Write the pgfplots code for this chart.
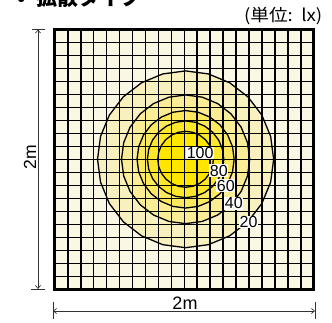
\documentclass[border=0pt]{standalone}
\usepackage{pgfplots}
\pgfplotsset{compat=1.18}
\usepackage{fontspec}
\setmainfont{Liberation Sans}
\newfontfamily\jp{Noto Sans CJK JP}
\usetikzlibrary{arrows.meta}
\definecolor{bg}{HTML}{FAF8E4}
\definecolor{c20}{HTML}{F9F0C0}
\definecolor{c40}{HTML}{FBEC96}
\definecolor{c60}{HTML}{FDE85E}
\definecolor{c80}{HTML}{FEE62A}
\definecolor{c100}{HTML}{FFE600}
\definecolor{dim}{HTML}{333333}
\begin{document}
\begin{tikzpicture}
\begin{axis}[at={(54.8pt,32.7pt)}, anchor=south west, scale only axis,
  width=259pt, height=260pt, xmin=0, xmax=2, ymin=0, ymax=2,
  xtick distance=0.1, ytick distance=0.1, xticklabels={}, yticklabels={},
  major tick length=0pt, grid=major, grid style={black, line width=1.6pt},
  axis line style={black, line width=3pt}, axis on top,
  axis background/.style={fill=bg}]
\addplot[fill=c20, draw=black, line width=1.3pt] coordinates {
(1.69,1.0) (1.6668,1.176) (1.5989,1.34) (1.4908,1.4808) (1.35,1.5889) (1.186,1.6568)
(1.01,1.68) (0.834,1.6568) (0.67,1.5889) (0.5292,1.4808) (0.4211,1.34) (0.3532,1.176)
(0.33,1.0) (0.3532,0.824) (0.4211,0.66) (0.5292,0.5192) (0.67,0.4111) (0.834,0.3432)
(1.01,0.32) (1.186,0.3432) (1.35,0.4111) (1.4908,0.5192) (1.5989,0.66) (1.6668,0.824)} -- cycle;
\addplot[fill=c40, draw=black, line width=1.3pt] coordinates {
(1.505,1.0) (1.4881,1.1281) (1.4387,1.2475) (1.36,1.35) (1.2575,1.4287) (1.1381,1.4781)
(1.01,1.495) (0.8819,1.4781) (0.7625,1.4287) (0.66,1.35) (0.5813,1.2475) (0.5319,1.1281)
(0.515,1.0) (0.5319,0.8719) (0.5813,0.7525) (0.66,0.65) (0.7625,0.5713) (0.8819,0.5219)
(1.01,0.505) (1.1381,0.5219) (1.2575,0.5713) (1.36,0.65) (1.4387,0.7525) (1.4881,0.8719)} -- cycle;
\addplot[fill=c60, draw=black, line width=1.3pt] coordinates {
(1.385,1.0) (1.3722,1.0971) (1.3348,1.1875) (1.2752,1.2652) (1.1975,1.3248) (1.1071,1.3622)
(1.01,1.375) (0.9129,1.3622) (0.8225,1.3248) (0.7448,1.2652) (0.6852,1.1875) (0.6478,1.0971)
(0.635,1.0) (0.6478,0.9029) (0.6852,0.8125) (0.7448,0.7348) (0.8225,0.6752) (0.9129,0.6378)
(1.01,0.625) (1.1071,0.6378) (1.1975,0.6752) (1.2752,0.7348) (1.3348,0.8125) (1.3722,0.9029)} -- cycle;
\addplot[fill=c80, draw=black, line width=1.3pt] coordinates {
(1.305,1.0) (1.2949,1.0763) (1.2655,1.1475) (1.2186,1.2086) (1.1575,1.2555) (1.0863,1.2849)
(1.01,1.295) (0.9337,1.2849) (0.8625,1.2555) (0.8014,1.2086) (0.7545,1.1475) (0.7251,1.0763)
(0.715,1.0) (0.7251,0.9237) (0.7545,0.8525) (0.8014,0.7914) (0.8625,0.7445) (0.9337,0.7151)
(1.01,0.705) (1.0863,0.7151) (1.1575,0.7445) (1.2186,0.7914) (1.2655,0.8525) (1.2949,0.9237)} -- cycle;
\addplot[fill=c100, draw=black, line width=1.3pt] coordinates {
(1.225,1.0) (1.2177,1.0556) (1.1962,1.1075) (1.162,1.152) (1.1175,1.1862) (1.0656,1.2077)
(1.01,1.215) (0.9544,1.2077) (0.9025,1.1862) (0.858,1.152) (0.8238,1.1075) (0.8023,1.0556)
(0.795,1.0) (0.8023,0.9444) (0.8238,0.8925) (0.858,0.848) (0.9025,0.8138) (0.9544,0.7923)
(1.01,0.785) (1.0656,0.7923) (1.1175,0.8138) (1.162,0.848) (1.1962,0.8925) (1.2177,0.9444)} -- cycle;
\coordinate (L100) at (axis cs:1.122,1.049);
\coordinate (L80) at (axis cs:1.267,0.913);
\coordinate (L60) at (axis cs:1.321,0.798);
\coordinate (L40) at (axis cs:1.382,0.662);
\coordinate (L20) at (axis cs:1.496,0.517);
\end{axis}
\foreach \n in {100,80,60,40,20}{
  \node[fill=white, inner sep=0.6pt, font=\fontsize{16pt}{18pt}\selectfont] at (L\n) {\n};
}
% dimension lines
\draw[dim, line width=0.7pt, {Straight Barb[length=3pt,width=5pt]}-{Straight Barb[length=3pt,width=5pt]}] (38pt,33pt) -- (38pt,292.5pt);
\draw[dim, line width=0.7pt] (32pt,292.5pt) -- (45pt,292.5pt);
\draw[dim, line width=0.7pt] (31pt,33pt) -- (45pt,33pt);
\node[rotate=90, font=\fontsize{17.5pt}{19pt}\selectfont] at (30pt,165pt) {2m};
\draw[dim, line width=0.7pt, {Straight Barb[length=3pt,width=5pt]}-{Straight Barb[length=3pt,width=5pt]}] (53pt,11pt) -- (315pt,11pt);
\draw[dim, line width=0.7pt] (53pt,3pt) -- (53pt,20pt);
\draw[dim, line width=0.7pt] (315pt,3pt) -- (315pt,20pt);
\node[anchor=base, font=\fontsize{18pt}{20pt}\selectfont] at (185pt,12.8pt) {2m};
% texts
\node[anchor=east, inner sep=0pt, xscale=1.1, font=\jp\fontsize{17pt}{19pt}\selectfont] at (322.5pt,306pt) {(単位:\hspace{0.45em}lx)};
\node[anchor=base west, inner sep=0pt, font=\jp\bfseries\fontsize{21pt}{23pt}\selectfont] at (36pt,316pt) {拡散タイプ};
\node[anchor=base, inner sep=0pt, font=\jp\bfseries\fontsize{21pt}{23pt}\selectfont] at (22pt,316pt) {•};
\pgfresetboundingbox
\path[use as bounding box] (0pt,0pt) rectangle (332pt,322pt);
\end{tikzpicture}
\end{document}
